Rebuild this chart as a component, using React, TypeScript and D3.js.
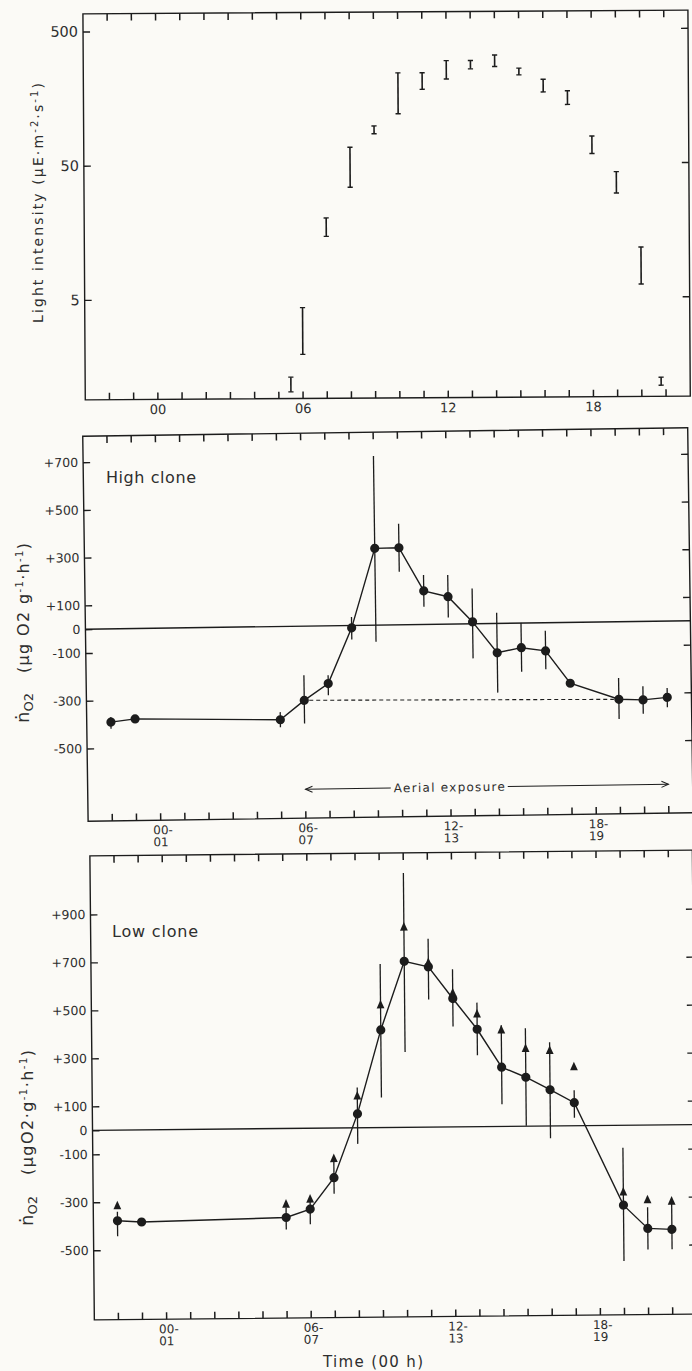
import React, { useRef, useEffect } from 'react';
import * as d3 from 'd3';

// Light intensity: hourly range, low and high ends (µE m-2 s-1)
const lightHours = [5.5, 6, 7, 8, 9, 10, 11, 12, 13, 14, 15, 16, 17, 18, 19, 20, 20.8];
const lightLow = [1.01, 1.92, 14.5, 33.6, 84, 118, 179, 213, 253, 263, 227, 169, 136, 58.5, 29.6, 6.2, 1.09];
const lightHigh = [1.3, 4.28, 19.9, 66.7, 96, 238, 238, 292, 292, 320, 255, 210, 172, 79, 42.7, 11.7, 1.25];

// Sampling hours for the O2 rates
const sampleHours = [-2, -1, 5, 6, 7, 8, 9, 10, 11, 12, 13, 14, 15, 16, 17, 19, 20, 21];

// High clone (µg O2 g-1 h-1)
const highMean = [-391, -379, -391, -311, -242, -10, 322, 323, 141, 115, 8, -123, -103, -118, -255, -325, -329, -320];
const highUpper = [-370, -379, -359, -206, -207, 36, 709, 424, 207, 206, 148, 45, 1, -33, -255, -236, -272, -281];
const highLower = [-419, -379, -422, -408, -291, -59, -70, 222, 74, 28, -145, -290, -204, -195, -255, -408, -387, -361];

// Low clone (µg O2 g-1 h-1), circles and triangles
const lowMean = [-378, -384, -371, -337, -207, 58, 407, 692, 668, 535, 406, 247, 204, 151, 96, -333, -431, -436];
const lowUpper = [-340, -384, -330, -295, -127, 168, 682, 1060, 785, 657, 517, 422, 408, 349, 148, -94, -343, -320];
const lowLower = [-442, -384, -421, -400, -274, -67, 125, 314, 532, 418, 298, 92, 2, -51, 33, -566, -519, -519];
const lowTriangle = [-315, null, -315, -295, -127, 133, 512, 835, 686, 559, 470, 402, 324, 315, 246, -278, -311, -318];

// Axis ticks and labels
const hourTicks = d3.range(-2, 22);
const labelHours = [0, 6, 12, 18];
const lightLabels = ['00', '06', '12', '18'];
const intervalLabels = [['00-', '01'], ['06-', '07'], ['12-', '13'], ['18-', '19']];
const lightTicks = [500, 50, 5];
const highTicks = [700, 500, 300, 100, 0, -100, -300, -500];
const lowTicks = [900, 700, 500, 300, 100, 0, -100, -300, -500];

// Aerial exposure period (hours) and where the arrow sits
const aerialStart = 6;
const aerialEnd = 21;
const aerialLevel = -684;

const INK = '#1c1c1c';
const TEXT = '#2e2e2e';
const FONT = '"DejaVu Sans", "Liberation Sans", sans-serif';

const signed = (v: number) => (v > 0 ? `+${v}` : `${v}`);

type G = d3.Selection<SVGGElement, unknown, null, undefined>;

function drawFrame(
  g: G,
  x: d3.ScaleLinear<number, number>,
  y: any,
  leftTicks: number[],
  fmt: (v: number) => string,
  labelSize: number
) {
  const [x0, x1] = x.range();
  const [yb, yt] = y.range();
  g.append('rect')
    .attr('x', x0).attr('y', yt)
    .attr('width', x1 - x0).attr('height', yb - yt)
    .attr('fill', 'none').attr('stroke', INK).attr('stroke-width', 1.4);

  // hour ticks, pointing inward from the top and bottom edges
  g.selectAll('.tick-top')
    .data(hourTicks)
    .enter()
    .append('line')
    .attr('class', 'tick-top')
    .attr('x1', d => x(d)).attr('x2', d => x(d))
    .attr('y1', yt).attr('y2', yt + 7)
    .attr('stroke', INK).attr('stroke-width', 1.5);
  g.selectAll('.tick-bottom')
    .data(hourTicks)
    .enter()
    .append('line')
    .attr('class', 'tick-bottom')
    .attr('x1', d => x(d)).attr('x2', d => x(d))
    .attr('y1', yb).attr('y2', yb - 7)
    .attr('stroke', INK).attr('stroke-width', 1.5);

  const axes = [
    g.append('g').attr('transform', `translate(${x0},0)`)
      .call(d3.axisLeft(y).tickValues(leftTicks).tickSize(-7).tickPadding(5).tickFormat(fmt as any)),
    g.append('g').attr('transform', `translate(${x1},0)`)
      .call(d3.axisRight(y).tickValues(leftTicks.filter(v => v !== 0)).tickSize(-7).tickFormat(() => '')),
  ];
  axes.forEach(a => {
    a.select('.domain').remove();
    a.selectAll('line').attr('stroke', INK).attr('stroke-width', 1.4);
    a.attr('font-family', FONT).attr('font-size', labelSize);
    a.selectAll('text').attr('fill', TEXT);
  });
}

function drawIntervalLabels(g: G, x: d3.ScaleLinear<number, number>, yb: number) {
  labelHours.forEach((h, i) => {
    const second = g.append('text')
      .attr('x', x(h)).attr('y', yb + 26)
      .attr('text-anchor', 'middle')
      .attr('font-family', FONT).attr('font-size', 12).attr('fill', TEXT)
      .text(intervalLabels[i][1]);
    const w = (second.node() as SVGTextElement).getComputedTextLength();
    g.append('text')
      .attr('x', x(h) - w / 2).attr('y', yb + 14)
      .attr('font-family', FONT).attr('font-size', 12).attr('fill', TEXT)
      .text(intervalLabels[i][0]);
  });
}

function drawO2Series(
  g: G,
  x: d3.ScaleLinear<number, number>,
  y: d3.ScaleLinear<number, number>,
  mean: number[],
  upper: number[],
  lower: number[]
) {
  const [x0, x1] = x.range();
  g.append('line')
    .attr('x1', x0).attr('x2', x1)
    .attr('y1', y(0)).attr('y2', y(0))
    .attr('stroke', INK).attr('stroke-width', 1.4);

  const pts = sampleHours.map((h, i) => ({ h, m: mean[i], u: upper[i], l: lower[i] }));

  g.selectAll('.err')
    .data(pts.filter(d => d.u !== d.l))
    .enter()
    .append('line')
    .attr('class', 'err')
    .attr('x1', d => x(d.h)).attr('x2', d => x(d.h))
    .attr('y1', d => y(d.u)).attr('y2', d => y(d.l))
    .attr('stroke', INK).attr('stroke-width', 1.3);

  g.append('path')
    .datum(pts)
    .attr('d', d3.line<typeof pts[0]>().x(d => x(d.h)).y(d => y(d.m)))
    .attr('fill', 'none').attr('stroke', INK).attr('stroke-width', 1.4);

  g.selectAll('.dot')
    .data(pts)
    .enter()
    .append('circle')
    .attr('class', 'dot')
    .attr('cx', d => x(d.h)).attr('cy', d => y(d.m))
    .attr('r', 4.6)
    .attr('fill', INK);
}

const App: React.FC = () => {
  const svgRef = useRef<SVGSVGElement>(null);

  useEffect(() => {
    if (!svgRef.current) return;
    const svg = d3.select(svgRef.current);
    svg.selectAll('*').remove();

    svg.append('rect').attr('width', 692).attr('height', 1371).attr('fill', '#fbfaf6');

    // ---------- Light intensity ----------
    const xL = d3.scaleLinear().domain([-3, 22]).range([84.1, 689.1]);
    const yL = d3.scaleLog().domain([0.9, 677]).range([398, 12]);
    const gL = svg.append('g').attr('transform', 'rotate(-0.35, 387, 205)') as G;
    drawFrame(gL, xL, yL, lightTicks, v => `${v}`, 14.5);

    labelHours.forEach((h, i) => {
      gL.append('text')
        .attr('x', xL(h)).attr('y', 398 + 14.5)
        .attr('text-anchor', 'middle')
        .attr('font-family', FONT).attr('font-size', 13).attr('fill', TEXT)
        .text(lightLabels[i]);
    });

    const bars = lightHours.map((h, i) => ({ h, lo: lightLow[i], hi: lightHigh[i] }));
    const bar = gL.selectAll('.bar').data(bars).enter().append('g').attr('class', 'bar');
    bar.append('line')
      .attr('x1', d => xL(d.h)).attr('x2', d => xL(d.h))
      .attr('y1', d => yL(d.hi)).attr('y2', d => yL(d.lo))
      .attr('stroke', INK).attr('stroke-width', 1.6);
    bar.append('line')
      .attr('x1', d => xL(d.h) - 2.6).attr('x2', d => xL(d.h) + 2.6)
      .attr('y1', d => yL(d.hi)).attr('y2', d => yL(d.hi))
      .attr('stroke', INK).attr('stroke-width', 1.4);
    bar.append('line')
      .attr('x1', d => xL(d.h) - 2.6).attr('x2', d => xL(d.h) + 2.6)
      .attr('y1', d => yL(d.lo)).attr('y2', d => yL(d.lo))
      .attr('stroke', INK).attr('stroke-width', 1.4);

    const titleL = svg.append('text')
      .attr('transform', 'translate(43,323) rotate(-90)')
      .attr('font-family', FONT).attr('font-size', 14).attr('fill', TEXT)
      .attr('textLength', 240).attr('lengthAdjust', 'spacing');
    titleL.append('tspan').text('Light intensity (μE·m');
    titleL.append('tspan').attr('dy', -5).attr('font-size', 10).text('-2');
    titleL.append('tspan').attr('dy', 5).text('·s');
    titleL.append('tspan').attr('dy', -5).attr('font-size', 10).text('-1');
    titleL.append('tspan').attr('dy', 5).text(')');

    // ---------- High clone ----------
    const xM = d3.scaleLinear().domain([-3, 22]).range([85.4, 690.4]);
    const yM = d3.scaleLinear().domain([-805, 809]).range([817, 432]);
    const gM = svg.append('g').attr('transform', 'rotate(-0.8, 388, 624.5)') as G;
    drawFrame(gM, xM, yM, highTicks, signed, 12.5);
    drawIntervalLabels(gM, xM, 817);

    const i6 = sampleHours.indexOf(6);
    const i19 = sampleHours.indexOf(19);
    gM.append('line')
      .attr('x1', xM(6) + 5).attr('x2', xM(19) - 5)
      .attr('y1', yM(highMean[i6])).attr('y2', yM(highMean[i19]))
      .attr('stroke', INK).attr('stroke-width', 1.1).attr('stroke-dasharray', '4,3');

    drawO2Series(gM, xM, yM, highMean, highUpper, highLower);

    // aerial exposure arrow
    const ay = yM(aerialLevel);
    const tx = 447;
    const tw = 111;
    gM.append('text')
      .attr('x', tx).attr('y', ay).attr('dy', '0.35em')
      .attr('text-anchor', 'middle')
      .attr('font-family', FONT).attr('font-size', 12).attr('fill', TEXT)
      .attr('textLength', tw).attr('lengthAdjust', 'spacing')
      .text('Aerial exposure');
    gM.append('line')
      .attr('x1', xM(aerialStart)).attr('x2', tx - tw / 2 - 3)
      .attr('y1', ay).attr('y2', ay).attr('stroke', INK).attr('stroke-width', 1);
    gM.append('line')
      .attr('x1', tx + tw / 2 + 3).attr('x2', xM(aerialEnd))
      .attr('y1', ay).attr('y2', ay).attr('stroke', INK).attr('stroke-width', 1);
    gM.append('path')
      .attr('d', `M${xM(aerialStart) + 7},${ay - 3}L${xM(aerialStart)},${ay}L${xM(aerialStart) + 7},${ay + 3}`)
      .attr('fill', 'none').attr('stroke', INK).attr('stroke-width', 1);
    gM.append('path')
      .attr('d', `M${xM(aerialEnd) - 7},${ay - 3}L${xM(aerialEnd)},${ay}L${xM(aerialEnd) - 7},${ay + 3}`)
      .attr('fill', 'none').attr('stroke', INK).attr('stroke-width', 1);

    svg.append('text')
      .attr('x', 106).attr('y', 483)
      .attr('font-family', FONT).attr('font-size', 16).attr('fill', TEXT)
      .attr('textLength', 90).attr('lengthAdjust', 'spacing')
      .text('High clone');

    const mA = svg.append('text')
      .attr('transform', 'translate(29,723) rotate(-90)')
      .attr('font-family', FONT).attr('font-size', 18).attr('fill', TEXT);
    mA.append('tspan').text('ṅ');
    mA.append('tspan').attr('dy', 4).attr('font-size', 13).text('O2');
    const mB = svg.append('text')
      .attr('transform', 'translate(29,673) rotate(-90)')
      .attr('font-family', FONT).attr('font-size', 16).attr('fill', TEXT)
      .attr('textLength', 130).attr('lengthAdjust', 'spacing');
    mB.append('tspan').text('(μg O2 g');
    mB.append('tspan').attr('dy', -6).attr('font-size', 10).text('-1');
    mB.append('tspan').attr('dy', 6).text('·h');
    mB.append('tspan').attr('dy', -6).attr('font-size', 10).text('-1');
    mB.append('tspan').attr('dy', 6).text(')');

    // ---------- Low clone ----------
    const xB = d3.scaleLinear().domain([-3, 22]).range([92.1, 694.6]);
    const yB = d3.scaleLinear().domain([-790, 1144]).range([1317, 853]);
    const gB = svg.append('g').attr('transform', 'rotate(-0.55, 393, 1085)') as G;
    drawFrame(gB, xB, yB, lowTicks, signed, 12.5);
    drawIntervalLabels(gB, xB, 1317);
    drawO2Series(gB, xB, yB, lowMean, lowUpper, lowLower);

    const tri = sampleHours
      .map((h, i) => ({ h, v: lowTriangle[i] }))
      .filter(d => d.v !== null) as { h: number; v: number }[];
    gB.selectAll('.tri')
      .data(tri)
      .enter()
      .append('path')
      .attr('class', 'tri')
      .attr('d', d => {
        const cx = xB(d.h);
        const cy = yB(d.v);
        return `M${cx},${cy - 5}L${cx + 3.9},${cy + 3.6}L${cx - 3.9},${cy + 3.6}Z`;
      })
      .attr('fill', INK);

    svg.append('text')
      .attr('x', 112).attr('y', 937)
      .attr('font-family', FONT).attr('font-size', 16).attr('fill', TEXT)
      .attr('textLength', 86).attr('lengthAdjust', 'spacing')
      .text('Low clone');

    const bA = svg.append('text')
      .attr('transform', 'translate(33,1226) rotate(-90)')
      .attr('font-family', FONT).attr('font-size', 18).attr('fill', TEXT);
    bA.append('tspan').text('ṅ');
    bA.append('tspan').attr('dy', 4).attr('font-size', 13).text('O2');
    const bB = svg.append('text')
      .attr('transform', 'translate(33,1175) rotate(-90)')
      .attr('font-family', FONT).attr('font-size', 16).attr('fill', TEXT)
      .attr('textLength', 125).attr('lengthAdjust', 'spacing');
    bB.append('tspan').text('(μgO2·g');
    bB.append('tspan').attr('dy', -6).attr('font-size', 10).text('-1');
    bB.append('tspan').attr('dy', 6).text('·h');
    bB.append('tspan').attr('dy', -6).attr('font-size', 10).text('-1');
    bB.append('tspan').attr('dy', 6).text(')');

    svg.append('text')
      .attr('x', 373).attr('y', 1367)
      .attr('text-anchor', 'middle')
      .attr('font-family', FONT).attr('font-size', 15).attr('fill', TEXT)
      .attr('textLength', 100).attr('lengthAdjust', 'spacing')
      .text('Time (00 h)');
  }, []);

  return (
    <div style={{ position: 'absolute', left: 0, top: 0 }}>
      <svg ref={svgRef} width={692} height={1371} style={{ display: 'block' }} />
    </div>
  );
};

export default App;
